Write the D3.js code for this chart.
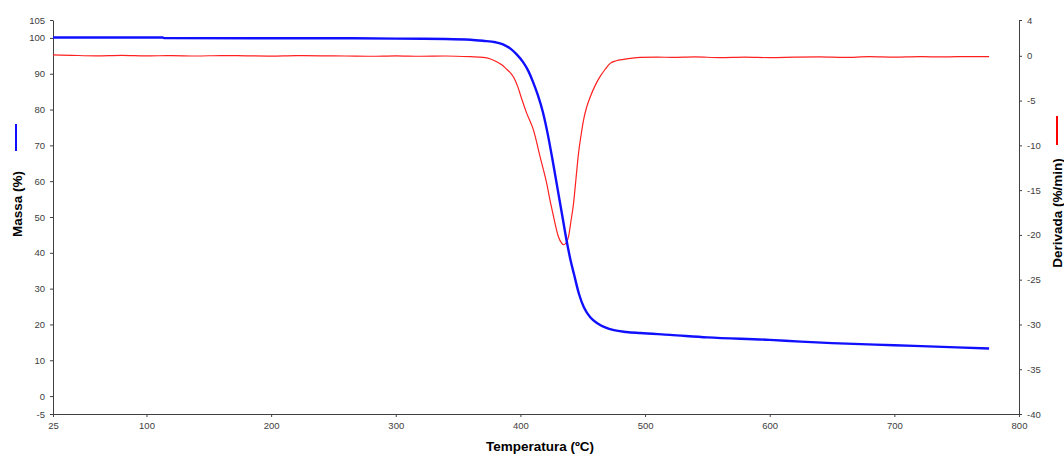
<!DOCTYPE html>
<html>
<head>
<meta charset="utf-8">
<script src="https://cdn.jsdelivr.net/npm/d3@7"></script>
<style>
  body { margin: 0; background: #fff; }
  text { font-family: "Liberation Sans", Arial, sans-serif; }
  .tick text { font-size: 9.5px; fill: #404040; }
  .tick line { stroke: #404040; }
  .domain { stroke: #404040; }
  .title { font-size: 13.5px; font-weight: bold; fill: #000; }
</style>
</head>
<body>
<div id="chart"></div>
<script>
// temperature (ºC) and mass (%) of the TG curve
var massTemp = [25, 113, 114, 257, 300, 340, 360, 370, 380, 386, 392, 397, 402, 406, 410, 414, 418, 422, 426, 430, 434, 437, 440, 443, 447, 451, 456, 462, 468, 475, 485, 496, 520, 550, 600, 625, 650, 700, 750, 776];
var massVals = [100.1, 100.1, 99.95, 99.9, 99.8, 99.7, 99.5, 99.2, 98.8, 98.2, 97.0, 95.4, 93.3, 91.0, 87.8, 84.0, 79.3, 73.0, 65.5, 57.5, 49.5, 43.5, 38.3, 34, 28.5, 24.7, 22, 20.3, 19.2, 18.4, 17.9, 17.6, 17.1, 16.4, 15.7, 15.2, 14.8, 14.2, 13.6, 13.3];

// temperature (ºC) and derivative (%/min) of the DTG curve
var derivTemp = [25, 40, 60, 80, 100, 120, 140, 160, 180, 200, 220, 240, 260, 280, 300, 320, 340, 360, 370, 376, 381, 385, 389, 392, 395, 398, 401, 405, 410.5, 416, 421, 424, 426.5, 430.5, 433, 434.6, 436.5, 438.6, 440.5, 442.6, 444.6, 446.6, 448.6, 450.6, 453, 456, 460, 464, 468, 472, 477, 482.7, 490, 496, 510, 522, 540, 560, 580, 600, 620, 640, 660, 680, 700, 720, 740, 760, 776];
var derivVals = [0.1, 0.05, 0.0, 0.05, 0.0, 0.02, -0.02, 0.03, 0.0, -0.03, 0.02, 0.0, -0.02, -0.05, 0.0, -0.05, -0.02, -0.1, -0.17, -0.35, -0.66, -1.0, -1.5, -1.9, -2.5, -3.5, -4.8, -6.4, -8.3, -11.4, -14.2, -16.3, -17.9, -20.2, -20.9, -21.1, -20.9, -20.2, -18.5, -16.5, -13.7, -10.9, -8.9, -7.2, -5.8, -4.6, -3.3, -2.3, -1.5, -0.84, -0.55, -0.4, -0.25, -0.17, -0.15, -0.17, -0.12, -0.2, -0.15, -0.2, -0.15, -0.12, -0.18, -0.1, -0.15, -0.1, -0.12, -0.08, -0.1];

// tick labels
var xTicks = [25, 100, 200, 300, 400, 500, 600, 700, 800];
var leftTicks = [-5, 0, 10, 20, 30, 40, 50, 60, 70, 80, 90, 100, 105];
var rightTicks = [4, 0, -5, -10, -15, -20, -25, -30, -35, -40];

var svgWidth = 1064;
var svgHeight = 454;

var plot = { left: 53, right: 1019, top: 20, bottom: 414 };

var svg = d3.select("#chart")
  .append("svg")
  .attr("width", svgWidth)
  .attr("height", svgHeight);

var x = d3.scaleLinear().domain([25, 800]).range([plot.left, plot.right]);
var yLeft = d3.scaleLinear().domain([-5, 105]).range([plot.bottom, plot.top]);
var yRight = d3.scaleLinear().domain([-40, 4]).range([plot.bottom, plot.top]);

// plain hyphen for negatives, like the original
var fmt = d => String(d);

// axes
svg.append("g")
  .attr("transform", `translate(0, ${plot.bottom})`)
  .call(d3.axisBottom(x).tickValues(xTicks).tickSize(3).tickSizeOuter(0).tickPadding(5).tickFormat(fmt));

svg.append("g")
  .attr("transform", `translate(${plot.left}, 0)`)
  .call(d3.axisLeft(yLeft).tickValues(leftTicks).tickSize(3).tickSizeOuter(0).tickPadding(5).tickFormat(fmt));

svg.append("g")
  .attr("transform", `translate(${plot.right}, 0)`)
  .call(d3.axisRight(yRight).tickValues(rightTicks).tickSize(3).tickSizeOuter(0).tickPadding(5).tickFormat(fmt));

svg.selectAll(".tick text").style("font-family", "Liberation Sans, Arial, sans-serif");

// curves
var massData = massTemp.map((t, i) => ({ t: t, v: massVals[i] }));
var derivData = derivTemp.map((t, i) => ({ t: t, v: derivVals[i] }));

svg.append("path")
  .datum(derivData)
  .attr("fill", "none")
  .attr("stroke", "#ff2020")
  .attr("stroke-width", 1.2)
  .attr("d", d3.line().x(d => x(d.t)).y(d => yRight(d.v)).curve(d3.curveMonotoneX));

svg.append("path")
  .datum(massData)
  .attr("fill", "none")
  .attr("stroke", "#1010ff")
  .attr("stroke-width", 2.4)
  .attr("d", d3.line().x(d => x(d.t)).y(d => yLeft(d.v)).curve(d3.curveMonotoneX));

// axis titles
svg.append("text")
  .attr("class", "title")
  .attr("x", 540)
  .attr("y", 451)
  .attr("text-anchor", "middle")
  .text("Temperatura (ºC)");

svg.append("text")
  .attr("class", "title")
  .attr("transform", "translate(22, 204) rotate(-90)")
  .attr("text-anchor", "middle")
  .text("Massa (%)");

svg.append("text")
  .attr("class", "title")
  .attr("transform", "translate(1062, 213) rotate(-90)")
  .attr("text-anchor", "middle")
  .text("Derivada (%/min)");

// legend keys
svg.append("line")
  .attr("x1", 16).attr("x2", 16)
  .attr("y1", 124).attr("y2", 151)
  .attr("stroke", "#1010ff").attr("stroke-width", 2);

svg.append("line")
  .attr("x1", 1057).attr("x2", 1057)
  .attr("y1", 116).attr("y2", 145)
  .attr("stroke", "#ff0000").attr("stroke-width", 2);
</script>
</body>
</html>
